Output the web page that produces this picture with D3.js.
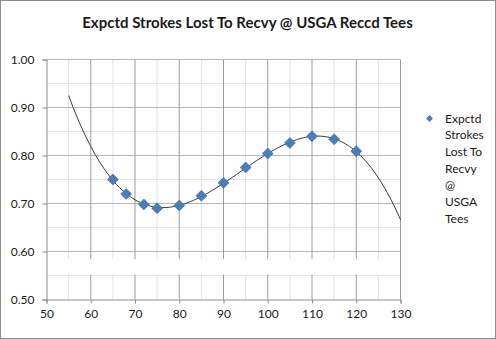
<!DOCTYPE html>
<html>
<head>
<meta charset="utf-8">
<script src="https://cdn.jsdelivr.net/npm/d3@7/dist/d3.min.js"></script>
<style>
  html, body { margin: 0; padding: 0; background: #fff; }
  svg { display: block; }
  text { font-family: Lato, "Open Sans", sans-serif; fill: #1a1a1a; }
</style>
</head>
<body>
<svg id="chart" width="496" height="339"></svg>
<script>
// Chart text
const chartTitle = "Expctd Strokes Lost To Recvy @ USGA Reccd Tees";
const legendLines = ["Expctd", "Strokes", "Lost To", "Recvy", "@", "USGA", "Tees"];

// Course length (x) and expected strokes lost (y)
const xValues = [65, 68, 72, 75, 80, 85, 90, 95, 100, 105, 110, 115, 120];
const yValues = [0.750, 0.720, 0.698, 0.690, 0.696, 0.716, 0.743, 0.775, 0.804, 0.826, 0.840, 0.834, 0.809];

// Axis ticks
const xTicks = [50, 60, 70, 80, 90, 100, 110, 120, 130];
const xMinorTicks = [55, 65, 75, 85, 95, 105, 115, 125];
const yTicks = [0.5, 0.6, 0.7, 0.8, 0.9, 1.0];
const yMinorTicks = [0.55, 0.65, 0.75, 0.85, 0.95];

// Polynomial trendline settings (order, backward / forward extension)
const trendOrder = 3;
const trendBackward = 10;
const trendForward = 10;

const svg = d3.select("#chart");
const W = 496, H = 339;

const x = d3.scaleLinear().domain([50, 130]).range([46.5, 400.5]);
const y = d3.scaleLinear().domain([0.5, 1.0]).range([299.5, 59.5]);

// Outer chart frame
svg.append("rect")
  .attr("x", 0.5).attr("y", 0.5)
  .attr("width", W - 1).attr("height", H - 1)
  .attr("fill", "#fff").attr("stroke", "#8c8c8c");

// Title
svg.append("text")
  .attr("x", 247.5).attr("y", 27.5)
  .attr("text-anchor", "middle")
  .style("font-weight", "bold").style("font-size", "15px")
  .text(chartTitle);

const grid = svg.append("g");

// Minor gridlines
grid.selectAll(".vminor").data(xMinorTicks).join("line")
  .attr("x1", d => x(d)).attr("x2", d => x(d))
  .attr("y1", y(1.0)).attr("y2", y(0.5))
  .attr("stroke", "#e2e2e2");
grid.selectAll(".hminor").data(yMinorTicks).join("line")
  .attr("y1", d => y(d)).attr("y2", d => y(d))
  .attr("x1", x(50)).attr("x2", x(130))
  .attr("stroke", "#e2e2e2");

// Major gridlines
grid.selectAll(".hmajor").data(yTicks.slice(1)).join("line")
  .attr("y1", d => y(d)).attr("y2", d => y(d))
  .attr("x1", x(50)).attr("x2", x(130))
  .attr("stroke", "#b5b5b5");
grid.selectAll(".vmajor").data(xTicks.slice(1)).join("line")
  .attr("x1", d => x(d)).attr("x2", d => x(d))
  .attr("y1", y(1.0)).attr("y2", y(0.5))
  .attr("stroke", "#9c9c9c");

// Blank band across the lower plot area
svg.append("rect")
  .attr("x", x(50) + 1).attr("y", 259)
  .attr("width", x(130) - x(50) - 1.5).attr("height", 15.5)
  .attr("fill", "#fff");

// Axes
const xAxis = d3.axisBottom(x).tickValues(xTicks).tickSize(4).tickPadding(6).tickFormat(d3.format("d"));
const yAxis = d3.axisLeft(y).tickValues(yTicks).tickSize(4).tickPadding(8).tickFormat(d3.format(".2f"));

const gx = svg.append("g").attr("transform", `translate(0,${y(0.5)})`).call(xAxis);
const gy = svg.append("g").attr("transform", `translate(${x(50)},0)`).call(yAxis);
[gx, gy].forEach(g => {
  g.select(".domain").attr("stroke", "#8c8c8c");
  g.selectAll(".tick line").attr("stroke", "#8c8c8c");
  g.selectAll(".tick text").style("font-size", "12px").style("font-family", "Lato, 'Open Sans', sans-serif").attr("fill", "#1a1a1a");
});
gy.selectAll(".tick text").attr("dy", "0.34em");

// Least-squares polynomial fit of the series
function polyFit(xs, ys, order) {
  const cx = d3.mean(xs), sx = 10;
  const n = order + 1;
  const A = Array.from({length: n}, () => new Array(n + 1).fill(0));
  xs.forEach((xv, i) => {
    const t = (xv - cx) / sx;
    const pw = d3.range(n).map(k => Math.pow(t, k));
    for (let r = 0; r < n; r++) {
      for (let c = 0; c < n; c++) A[r][c] += pw[r] * pw[c];
      A[r][n] += pw[r] * ys[i];
    }
  });
  // Gaussian elimination
  for (let i = 0; i < n; i++) {
    let p = i;
    for (let r = i + 1; r < n; r++) if (Math.abs(A[r][i]) > Math.abs(A[p][i])) p = r;
    [A[i], A[p]] = [A[p], A[i]];
    for (let r = 0; r < n; r++) {
      if (r === i) continue;
      const f = A[r][i] / A[i][i];
      for (let c = i; c <= n; c++) A[r][c] -= f * A[i][c];
    }
  }
  const coef = A.map((row, i) => row[n] / row[i]);
  return xv => {
    const t = (xv - cx) / sx;
    return coef.reduce((s, c, k) => s + c * Math.pow(t, k), 0);
  };
}

const fit = polyFit(xValues, yValues, trendOrder);
const x0 = d3.min(xValues) - trendBackward, x1 = d3.max(xValues) + trendForward;
const trendPts = d3.range(x0, x1 + 0.001, 0.5).map(v => [v, fit(v)]);

svg.append("path")
  .datum(trendPts)
  .attr("fill", "none")
  .attr("stroke", "#222")
  .attr("stroke-width", 0.9)
  .attr("d", d3.line().x(d => x(d[0])).y(d => y(d[1])).curve(d3.curveMonotoneX));

// Diamond markers
const diamond = d3.symbol().type(d3.symbolDiamond2 || d3.symbolSquare2).size(70);
const pts = xValues.map((v, i) => [v, yValues[i]]);
svg.append("g").selectAll("path").data(pts).join("path")
  .attr("transform", d => `translate(${x(d[0])},${y(d[1])}) rotate(45)`)
  .attr("d", d3.symbol().type(d3.symbolSquare).size(60)())
  .attr("fill", "#4a7ebb")
  .attr("stroke", "#3d6ea8")
  .attr("stroke-width", 0.6);

// Legend
const legend = svg.append("g");
legend.append("path")
  .attr("transform", "translate(429.5,118.5) rotate(45)")
  .attr("d", d3.symbol().type(d3.symbolSquare).size(24)())
  .attr("fill", "#4a7ebb");
legend.selectAll("text").data(legendLines).join("text")
  .attr("x", 445)
  .attr("y", (d, i) => 122.5 + i * 16.67)
  .style("font-size", "12px")
  .text(d => d);
</script>
</body>
</html>
